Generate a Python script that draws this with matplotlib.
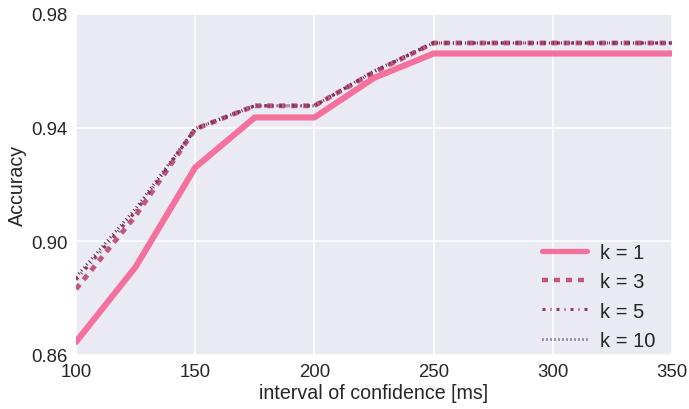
import matplotlib
matplotlib.use("Agg")
import matplotlib.pyplot as plt

intervals = [100, 125, 150, 175, 200, 225, 250, 275, 300, 325, 350]
acc_k1 = [0.8646, 0.8910, 0.9260, 0.9436, 0.9436, 0.9575, 0.9661, 0.9661, 0.9661, 0.9661, 0.9661]
acc_k3 = [0.8832, 0.9090, 0.9395, 0.9477, 0.9477, 0.9595, 0.9698, 0.9698, 0.9698, 0.9698, 0.9698]
acc_k5 = [0.8865, 0.9105, 0.9395, 0.9477, 0.9477, 0.9597, 0.9698, 0.9698, 0.9698, 0.9698, 0.9698]
acc_k10 = [0.8875, 0.9115, 0.9397, 0.9477, 0.9477, 0.9600, 0.9698, 0.9698, 0.9698, 0.9698, 0.9698]
labels = ["k = 1", "k = 3", "k = 5", "k = 10"]
x_ticks = [100, 150, 200, 250, 300, 350]
y_ticks = [0.86, 0.90, 0.94, 0.98]

plt.rcParams['font.family'] = ['Liberation Sans', 'DejaVu Sans']
plt.rcParams['lines.scale_dashes'] = False

fig = plt.figure(figsize=(6.89, 4.10), dpi=100)
ax = fig.add_axes([76/689, 1-356/410, (672-76)/689, (356-15)/410])
ax.set_facecolor('#EAEAF2')
for s in ax.spines.values():
    s.set_visible(False)
ax.grid(True, color='white', linewidth=1.1)
ax.set_axisbelow(True)

series = [acc_k1, acc_k3, acc_k5, acc_k10]
colors = ['#F5719D', '#C0587E', '#8F3C63', '#5E2A4D']
widths = [4.4, 3.5, 2.4, 2.2]
dashes = [None, (4.32, 4.32), (2.16, 3.6, 0.72, 3.6), (0.72, 2.16)]
for ys, lab, c, w, d in zip(series, labels, colors, widths, dashes):
    ln, = ax.plot(intervals, ys, color=c, lw=w, label=lab,
                  solid_capstyle='round' if d is None else 'butt')
    if d is not None:
        ln.set_dashes(d)
        ln.set_dash_capstyle('butt')

ax.set_xlim(100, 350)
ax.set_ylim(0.86, 0.98)
ax.set_xticks(x_ticks)
ax.set_yticks(y_ticks)
ax.set_yticklabels([f"{v:.2f}" for v in y_ticks])
ax.tick_params(axis='both', length=0, labelsize=13.4, labelcolor='#262626', pad=6)
ax.set_xlabel("interval of confidence [ms]", fontsize=14.1, color='#262626', labelpad=2)
ax.set_ylabel("Accuracy", fontsize=14.1, color='#262626', labelpad=3)

leg = ax.legend(loc='lower right', frameon=False, fontsize=14.5, handlelength=2.24,
                labelspacing=0.52, handletextpad=0.6, borderaxespad=0.0,
                bbox_to_anchor=(1 - 9/596, -0.009))
for t in leg.get_texts():
    t.set_color('#262626')
leg_widths = [3.8, 3.2, 2.2, 2.0]
for lh, w in zip(leg.get_lines(), leg_widths):
    lh.set_linewidth(w)

fig.savefig("out.png", dpi=100)
